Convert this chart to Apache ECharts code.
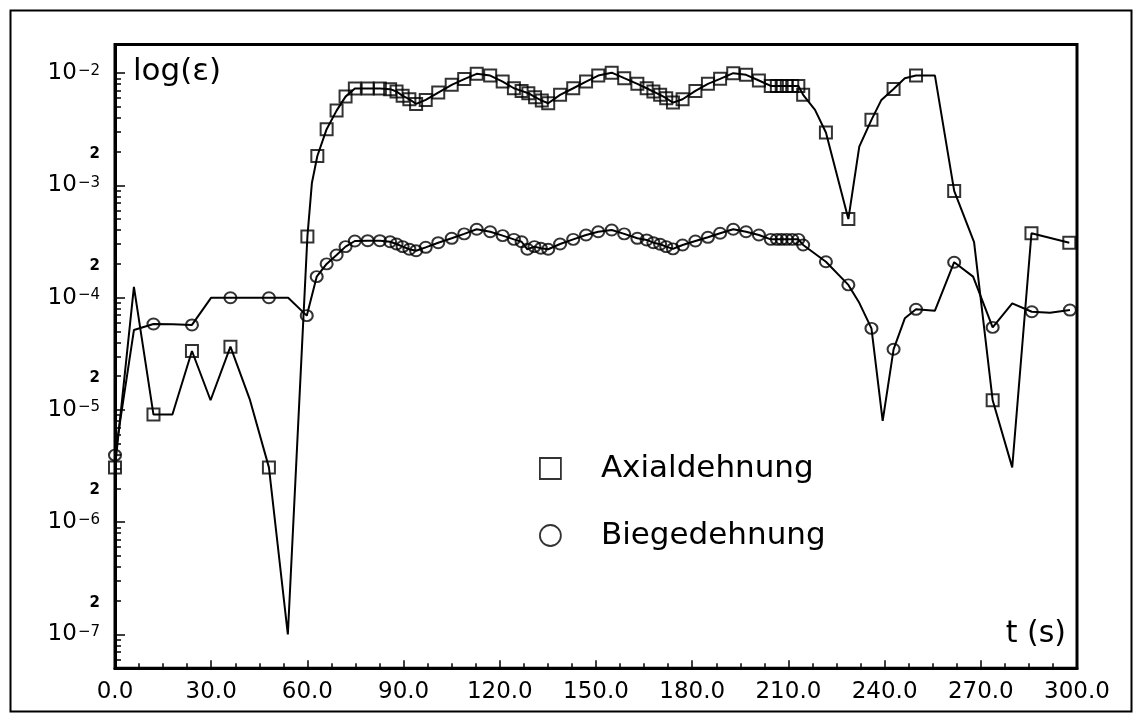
<!DOCTYPE html>
<html>
<head>
<meta charset="utf-8">
<script src="https://cdn.jsdelivr.net/npm/echarts@6.0.0/dist/echarts.min.js"></script>
<style>html,body{margin:0;padding:0;background:#fff;}#c{width:1142px;height:722px;}</style>
</head>
<body>
<div id="c"></div>
<script>
// ---- data (t in s, strain values) ----
const seriesNames = ['Axialdehnung', 'Biegedehnung'];

// Axialdehnung: points carrying a square marker
const axialMarkT = [0, 12, 24, 36, 48, 60, 63.1, 66.0, 69.1, 71.9, 74.8, 78.8, 82.6, 85.8, 87.8, 89.7, 91.8, 93.9, 96.9, 100.8,
  105.0, 108.9, 112.8, 117.0, 120.9, 124.4, 126.8, 128.9, 131.0, 133.1, 135.1, 138.8, 142.9, 146.9, 150.7, 154.9, 158.8,
  162.9, 165.8, 167.9, 170.0, 171.9, 174.0, 177.0, 181.0, 184.9, 188.7, 192.8, 196.8, 200.8, 204.5, 206.4, 207.9, 209.5,
  211.2, 213.1, 214.6, 221.7, 228.7, 235.9, 242.8, 249.8, 261.7, 273.7, 285.8, 297.6];
const axialMarkV = [3.08e-6, 9.1e-6, 3.35e-5, 3.66e-5, 3.08e-6, 3.5e-4, 1.83e-3, 3.17e-3, 4.64e-3, 6.18e-3, 7.3e-3, 7.3e-3, 7.3e-3, 7.2e-3,
  6.86e-3, 6.28e-3, 5.86e-3, 5.32e-3, 5.78e-3, 6.72e-3, 7.87e-3, 8.85e-3, 9.86e-3, 9.52e-3, 8.41e-3, 7.34e-3, 6.95e-3, 6.63e-3,
  6.11e-3, 5.7e-3, 5.4e-3, 6.41e-3, 7.34e-3, 8.41e-3, 9.52e-3, 1.01e-2, 9.02e-3, 8.03e-3, 7.34e-3, 6.86e-3, 6.41e-3, 5.98e-3,
  5.47e-3, 5.86e-3, 6.95e-3, 8.03e-3, 8.9e-3, 1.0e-2, 9.66e-3, 8.6e-3, 7.7e-3, 7.7e-3, 7.7e-3, 7.7e-3, 7.7e-3, 7.7e-3,
  6.41e-3, 2.96e-3, 5.02e-4, 3.84e-3, 7.24e-3, 9.52e-3, 8.93e-4, 1.22e-5, 3.75e-4, 3.09e-4];
// Axialdehnung: further curve points without marker
const axialLineT = [5.9, 17.9, 29.8, 42.0, 53.9, 61.4, 218.3, 232.1, 239.0, 246.3, 255.7, 267.9, 279.8];
const axialLineV = [1.25e-4, 9.1e-6, 1.22e-5, 1.25e-5, 1.0e-7, 1.05e-3, 4.71e-3, 2.22e-3, 5.78e-3, 9.02e-3, 9.52e-3, 3.12e-4, 3.08e-6];

// Biegedehnung: points carrying a circle marker
const biegeMarkT = [0, 12, 24, 36, 48, 59.8, 62.9, 66.0, 69.1, 71.9, 74.8, 78.8, 82.6, 85.8, 87.8, 89.7, 91.8, 93.9, 96.9, 100.8,
  105.0, 108.9, 112.8, 117.0, 120.9, 124.4, 126.8, 128.6, 130.8, 132.8, 135.1, 138.8, 142.9, 146.9, 150.7, 154.9, 158.8,
  162.9, 165.8, 167.9, 170.0, 171.9, 174.0, 177.0, 181.0, 184.9, 188.7, 192.8, 196.8, 200.8, 204.5, 206.4, 207.9, 209.5,
  211.2, 213.1, 214.6, 221.7, 228.7, 235.9, 242.8, 249.8, 261.7, 273.7, 285.9, 297.8];
const biegeMarkV = [3.96e-6, 5.83e-5, 5.72e-5, 1.0e-4, 1.0e-4, 6.92e-5, 1.54e-4, 2.0e-4, 2.4e-4, 2.85e-4, 3.2e-4, 3.22e-4, 3.22e-4, 3.15e-4,
  3.01e-4, 2.85e-4, 2.7e-4, 2.62e-4, 2.81e-4, 3.09e-4, 3.38e-4, 3.7e-4, 4.07e-4, 3.87e-4, 3.57e-4, 3.31e-4, 3.15e-4, 2.7e-4,
  2.85e-4, 2.76e-4, 2.7e-4, 3.01e-4, 3.31e-4, 3.62e-4, 3.87e-4, 4.01e-4, 3.7e-4, 3.38e-4, 3.27e-4, 3.09e-4, 2.99e-4, 2.85e-4,
  2.72e-4, 2.95e-4, 3.2e-4, 3.45e-4, 3.75e-4, 4.07e-4, 3.87e-4, 3.62e-4, 3.31e-4, 3.31e-4, 3.31e-4, 3.31e-4, 3.31e-4, 3.31e-4,
  2.95e-4, 2.09e-4, 1.3e-4, 5.33e-5, 3.47e-5, 7.88e-5, 2.07e-4, 5.44e-5, 7.5e-5, 7.76e-5];
// Biegedehnung: further curve points without marker
const biegeLineT = [5.9, 18.0, 30.0, 42.0, 54.0, 232.1, 239.4, 246.3, 255.7, 267.6, 279.8, 291.6];
const biegeLineV = [5.15e-5, 5.8e-5, 1.0e-4, 1.0e-4, 1.0e-4, 9.0e-5, 8.0e-6, 6.55e-5, 7.66e-5, 1.54e-4, 8.91e-5, 7.34e-5];

// ---- axes ----
const xMin = 0, xMax = 300, xStep = 30;
const xTickLabels = ['0.0', '30.0', '60.0', '90.0', '120.0', '150.0', '180.0', '210.0', '240.0', '270.0', '300.0'];
const yMin = 5e-8, yMax = 0.018;
const yDecades = [1e-7, 1e-6, 1e-5, 1e-4, 1e-3, 1e-2];
const yTwoTicks = [2e-7, 2e-6, 2e-5, 2e-4, 2e-3];
const yMinorMantissas = [2, 3, 4, 5, 6, 7, 8, 9];
const yMinorExponents = [-8, -7, -6, -5, -4, -3, -2];
const yAxisTitle = 'log(ε)';
const xAxisTitle = 't (s)';

const FONT = "'DejaVu Sans', 'Liberation Sans', sans-serif";

function pairs(ts, vs) { return ts.map((t, i) => [t, vs[i]]); }
function merged(t1, v1, t2, v2) {
  return pairs(t1, v1).concat(pairs(t2, v2)).sort((a, b) => a[0] - b[0]);
}
const yMinorTicks = [];
yMinorExponents.forEach(e => yMinorMantissas.forEach(m => {
  const v = parseFloat(m + 'e' + e);
  if (v >= yMin && v <= yMax) yMinorTicks.push(v);
}));
const yLabelValues = yDecades.concat(yTwoTicks).filter(v => v >= yMin && v <= yMax);

function yLabel(v) {
  const e = Math.floor(Math.log10(v) + 1e-9);
  const m = Math.round(v / Math.pow(10, e));
  if (m === 1) return '{b|10}{s|−' + (-e) + '}';
  return '{t|' + m + '}';
}

const chart = echarts.init(document.getElementById('c'), null, { renderer: 'canvas' });
const markerStyle = { color: 'rgba(0,0,0,0)', borderColor: '#000', borderWidth: 2 };
chart.setOption({
  animation: false,
  backgroundColor: '#fff',
  grid: { left: 115, right: 65, top: 44.5, bottom: 53.7, show: true, borderColor: '#000', borderWidth: 3, backgroundColor: 'rgba(0,0,0,0)' },
  xAxis: {
    type: 'value', min: xMin, max: xMax, interval: xStep,
    axisLine: { show: true, lineStyle: { color: '#000', width: 3 } },
    axisTick: { show: true, inside: true, length: 8, lineStyle: { color: '#000', width: 1.5 } },
    minorTick: { show: true, splitNumber: 4, length: 5, lineStyle: { color: '#000', width: 1.5 } },
    axisLabel: { formatter: v => xTickLabels[Math.round((v - xMin) / xStep)], color: '#000', fontSize: 23, fontFamily: FONT, margin: 12 },
    splitLine: { show: false }, minorSplitLine: { show: false }
  },
  yAxis: [{
    type: 'log', min: yMin, max: yMax, position: 'left',
    axisLine: { show: true, lineStyle: { color: '#000', width: 3 } },
    axisTick: { show: true, inside: true, length: 10, customValues: yDecades, lineStyle: { color: '#000', width: 1.5 } },
    minorTick: { show: false },
    axisLabel: {
      customValues: yLabelValues, formatter: yLabel, margin: 15, color: '#000',
      rich: {
        b: { fontSize: 23, fontFamily: FONT, color: '#000', verticalAlign: 'middle' },
        s: { fontSize: 15, fontFamily: FONT, color: '#000', verticalAlign: 'middle', padding: [0, 0, 5, 1] },
        t: { fontSize: 15, fontFamily: FONT, fontWeight: 'bold', color: '#000', padding: [4, 0, 0, 0] }
      }
    },
    splitLine: { show: false }, minorSplitLine: { show: false }
  }, {
    type: 'log', min: yMin, max: yMax, position: 'left', offset: 0,
    axisLine: { show: false },
    axisTick: { show: true, inside: true, length: 6, customValues: yMinorTicks, lineStyle: { color: '#000', width: 1.5 } },
    axisLabel: { show: false },
    splitLine: { show: false }, minorSplitLine: { show: false }
  }],
  legend: {
    orient: 'vertical', left: 539, top: 453, padding: 0, itemWidth: 21, itemHeight: 21, itemGap: 36,
    selectedMode: false,
    textStyle: { fontSize: 31, fontFamily: FONT, color: '#000', padding: [0, 0, 0, 35] },
    data: [
      { name: seriesNames[0], icon: 'rect', itemStyle: { color: 'rgba(0,0,0,0)', borderColor: '#000', borderWidth: 1.8 } },
      { name: seriesNames[1], icon: 'circle', itemStyle: { color: 'rgba(0,0,0,0)', borderColor: '#000', borderWidth: 1.8 } }
    ]
  },
  graphic: [
    { type: 'rect', shape: { x: 10.5, y: 10.5, width: 1121, height: 701 }, style: { fill: 'none', stroke: '#000', lineWidth: 2 }, silent: true },
    { type: 'text', x: 133, y: 72, style: { text: yAxisTitle, font: '31px ' + FONT, fill: '#000', align: 'left', verticalAlign: 'middle', textAlign: 'left', textVerticalAlign: 'middle' } },
    { type: 'text', x: 1066, y: 634, style: { text: xAxisTitle, font: '30px ' + FONT, fill: '#000', align: 'right', verticalAlign: 'middle', textAlign: 'right', textVerticalAlign: 'middle' } }
  ],
  series: [
    { name: seriesNames[0], type: 'scatter', yAxisIndex: 0, symbol: 'rect', symbolSize: 12, itemStyle: markerStyle, data: pairs(axialMarkT, axialMarkV), z: 3 },
    { name: seriesNames[1], type: 'scatter', yAxisIndex: 0, symbol: 'circle', symbolSize: [12, 11], itemStyle: markerStyle, data: pairs(biegeMarkT, biegeMarkV), z: 3 },
    { name: seriesNames[0], type: 'line', yAxisIndex: 0, showSymbol: false, symbol: 'none', lineStyle: { color: '#000', width: 2 }, data: merged(axialMarkT, axialMarkV, axialLineT, axialLineV), z: 2 },
    { name: seriesNames[1], type: 'line', yAxisIndex: 0, showSymbol: false, symbol: 'none', lineStyle: { color: '#000', width: 2 }, data: merged(biegeMarkT, biegeMarkV, biegeLineT, biegeLineV), z: 2 }
  ]
});
</script>
</body>
</html>
